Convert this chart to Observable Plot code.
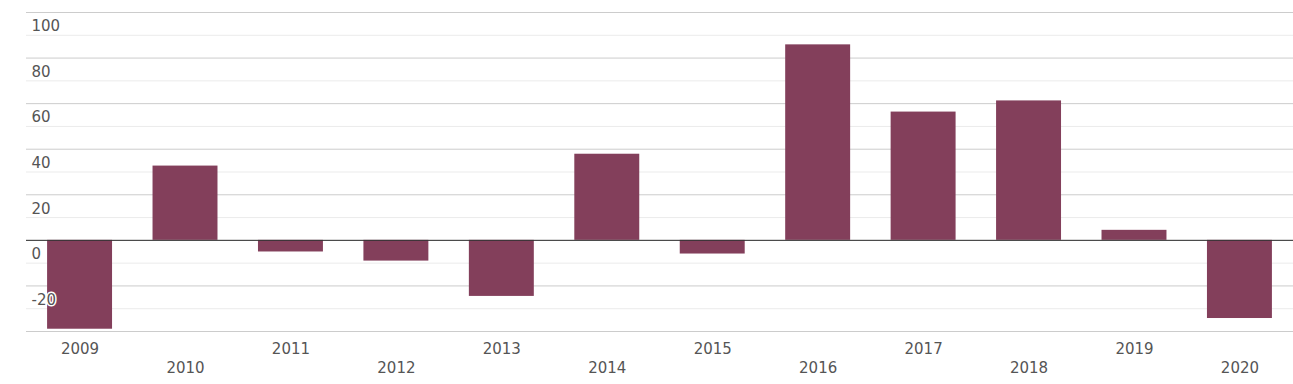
<!DOCTYPE html>
<html>
<head>
<meta charset="utf-8">
<script src="https://cdn.jsdelivr.net/npm/d3@7"></script>
<script src="https://cdn.jsdelivr.net/npm/@observablehq/plot@0.6"></script>
<style>
  html, body { margin: 0; padding: 0; background: #fff; }
  #chart svg { display: block; }
</style>
</head>
<body>
<div id="chart"></div>
<script>
const years = ["2009","2010","2011","2012","2013","2014","2015","2016","2017","2018","2019","2020"];
const values = [-39.0, 32.6, -5.1, -9.1, -24.6, 37.8, -6.0, 85.8, 56.3, 61.2, 4.4, -34.3];
const majorTicks = [-40, -20, 0, 20, 40, 60, 80, 100];
const minorTicks = [-30, -10, 10, 30, 50, 70, 90];
const labelTicks = [-20, 0, 20, 40, 60, 80, 100];

const data = years.map((y, i) => ({year: y, value: values[i]}));
const topRow = years.filter((_, i) => i % 2 === 0);
const bottomRow = years.filter((_, i) => i % 2 === 1);

const chart = Plot.plot({
  width: 1293,
  height: 384,
  marginLeft: 26,
  marginRight: 0,
  marginTop: 12,
  marginBottom: 53,
  style: {fontFamily: "DejaVu Sans", fontSize: "15px", color: "#555", background: "#fff"},
  x: {domain: years, paddingInner: 0.384, paddingOuter: 0.2, round: false, axis: null},
  y: {domain: [-40, 100], axis: null},
  marks: [
    Plot.ruleY(minorTicks, {stroke: "#ebebeb", strokeWidth: 1}),
    Plot.ruleY(majorTicks, {stroke: "#cccccc", strokeWidth: 1}),
    Plot.barY(data, {x: "year", y: "value", fill: "#833f5b"}),
    Plot.ruleY([0], {stroke: "#333", strokeWidth: 1}),
    Plot.text(labelTicks, {y: d => d, text: d => String(d), frameAnchor: "left", textAnchor: "start", dx: 5, dy: 14, fill: "#555", stroke: "white", strokeWidth: 3, fontSize: 15}),
    Plot.axisX({ticks: topRow, tickSize: 0, tickPadding: 12, fontSize: 15, fill: "#555", label: null}),
    Plot.axisX({ticks: bottomRow, tickSize: 0, tickPadding: 31, fontSize: 15, fill: "#555", label: null})
  ]
});
document.getElementById("chart").appendChild(chart);
</script>
</body>
</html>
